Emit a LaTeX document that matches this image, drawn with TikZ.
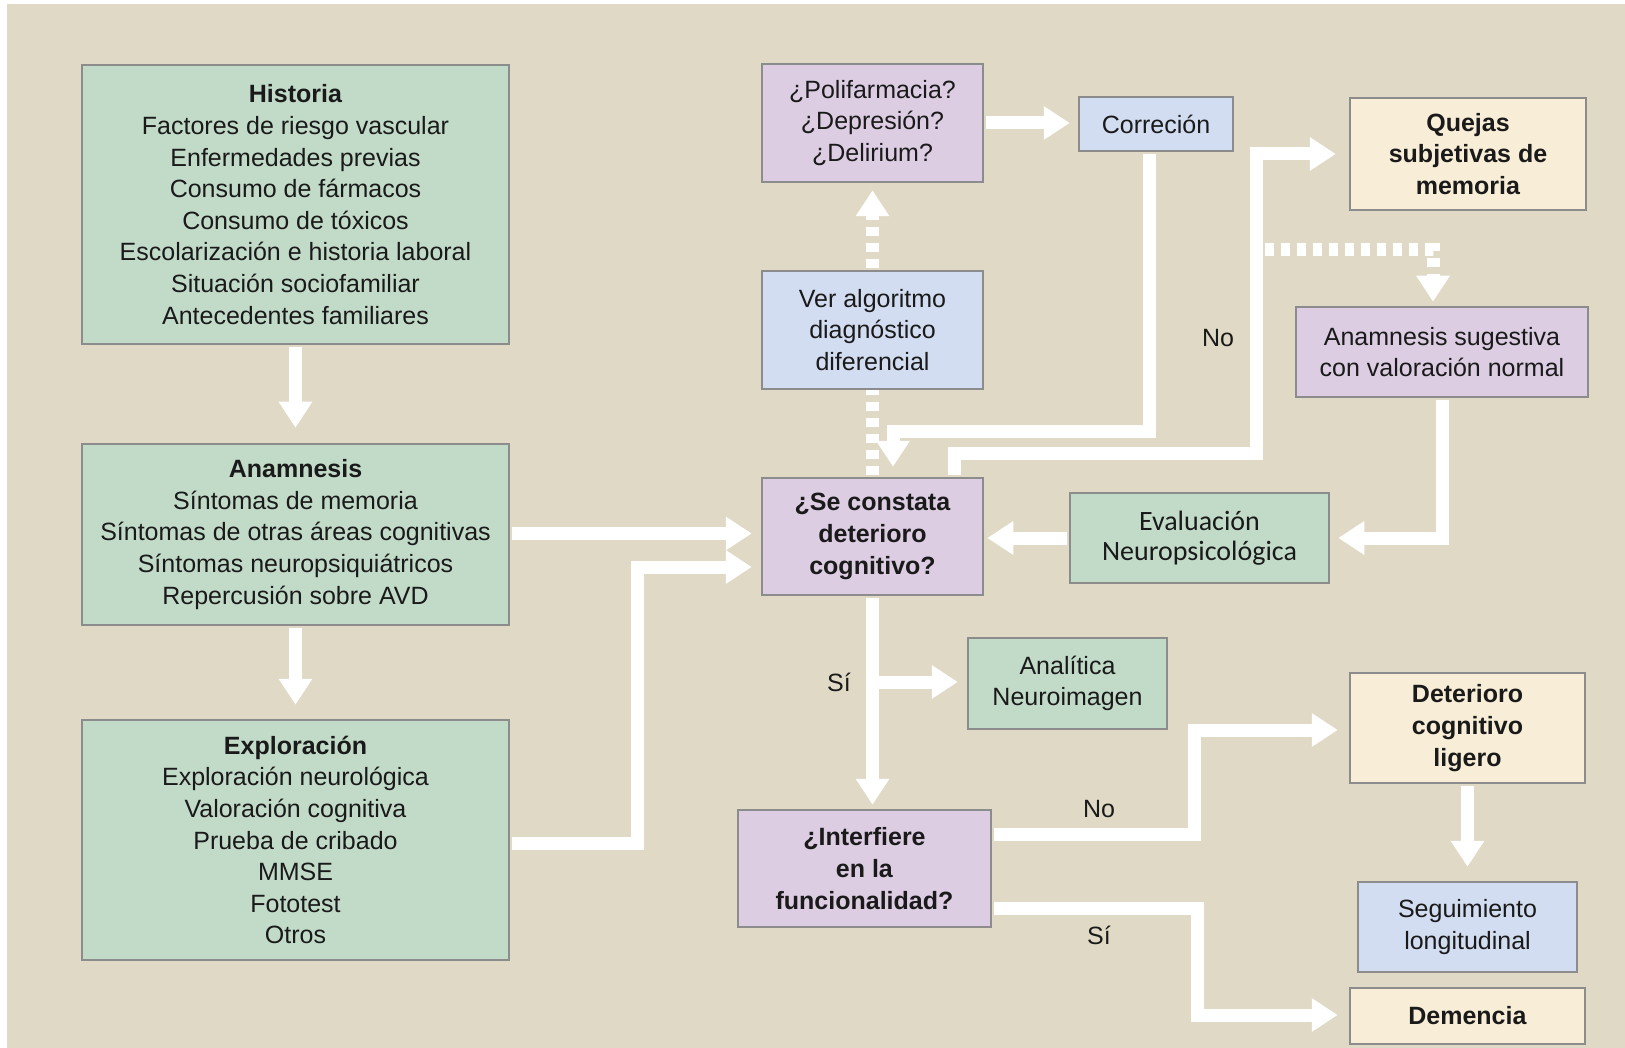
\documentclass[tikz,border=0pt]{standalone}
\usepackage{fontspec}
\setmainfont{Liberation Sans}
\newfontfamily\calfont{Carlito}
\usetikzlibrary{arrows.meta}
\definecolor{bgc}{HTML}{E0D9C6}
\definecolor{greenc}{HTML}{C2DBC8}
\definecolor{purpc}{HTML}{DDCDE3}
\definecolor{bluec}{HTML}{D3DDF1}
\definecolor{yelc}{HTML}{F8EED7}
\definecolor{bordc}{HTML}{8C8C8C}
\definecolor{txtc}{HTML}{1A1A1A}
\begin{document}
\begin{tikzpicture}[x=1pt,y=-1pt,
  box/.style={draw=bordc, line width=2.5pt, inner sep=0pt, align=center, text=txtc, font=\fontsize{25}{31.6}\selectfont},
  flow/.style={draw=white, line width=13pt, -{Triangle[width=32pt,length=26pt]}, shorten <=2pt},
  flowd/.style={flow, dash pattern=on 9pt off 7pt},
  plain/.style={draw=white, line width=13pt, shorten <=2pt},
  plaind/.style={plain, dash pattern=on 9pt off 7pt},
  lbl/.style={text=txtc, font=\fontsize{25}{30}\selectfont, inner sep=0pt}]
\useasboundingbox (0,0) rectangle (1625,1048);
\fill[white] (0,0) rectangle (1625,1048);
\fill[bgc] (7,4) rectangle (1625,1048);

% nodes
\node[box, fill=greenc, minimum width=427pt, minimum height=279pt] (hist) at (295.5,204.5)
 {\textbf{Historia}\\Factores de riesgo vascular\\Enfermedades previas\\Consumo de fármacos\\Consumo de tóxicos\\Escolarización e historia laboral\\Situación sociofamiliar\\Antecedentes familiares};
\node[box, fill=greenc, minimum width=427pt, minimum height=181pt] (anam) at (295.5,534.5)
 {\textbf{Anamnesis}\\Síntomas de memoria\\Síntomas de otras áreas cognitivas\\Síntomas neuropsiquiátricos\\Repercusión sobre AVD};
\node[box, fill=greenc, minimum width=427pt, minimum height=240pt] (expl) at (295.5,840)
 {\textbf{Exploración}\\Exploración neurológica\\Valoración cognitiva\\Prueba de cribado\\MMSE\\Fototest\\Otros};
\node[box, fill=purpc, minimum width=221pt, minimum height=118pt] (poli) at (872.5,123)
 {¿Polifarmacia?\\¿Depresión?\\¿Delirium?};
\node[box, fill=bluec, minimum width=154pt, minimum height=54pt] (corr) at (1156,124) {Correción};
\node[box, fill=bluec, minimum width=221pt, minimum height=118pt] (ver) at (872.5,330)
 {Ver algoritmo\\diagnóstico\\diferencial};
\node[box, fill=yelc, minimum width=236pt, minimum height=112pt] (quejas) at (1468,154)
 {\textbf{Quejas}\\\textbf{subjetivas de}\\\textbf{memoria}};
\node[box, fill=purpc, minimum width=292pt, minimum height=90pt] (sug) at (1442,352)
 {Anamnesis sugestiva\\con valoración normal};
\node[box, fill=purpc, minimum width=221pt, minimum height=117pt] (sc) at (872.5,536.5)
 {\textbf{¿Se constata}\\\textbf{deterioro}\\\textbf{cognitivo?}};
\node[box, fill=greenc, minimum width=259pt, minimum height=90pt, font=\calfont\fontsize{28}{30}\selectfont] (eval) at (1199.5,538)
 {Evaluación\\Neuropsicológica};
\node[box, fill=greenc, minimum width=199pt, minimum height=91pt] (anal) at (1067.5,683.5)
 {Analítica\\Neuroimagen};
\node[box, fill=yelc, minimum width=235pt, minimum height=110pt] (dcl) at (1467.5,728)
 {\textbf{Deterioro}\\\textbf{cognitivo}\\\textbf{ligero}};
\node[box, fill=purpc, minimum width=253pt, minimum height=117pt] (inter) at (864.5,868.5)
 {\textbf{¿Interfiere}\\\textbf{en la}\\\textbf{funcionalidad?}};
\node[box, fill=bluec, minimum width=219pt, minimum height=90pt] (seg) at (1467.5,927)
 {Seguimiento\\longitudinal};
\node[box, fill=yelc, minimum width=235pt, minimum height=56pt] (dem) at (1467.5,1016)
 {\textbf{Demencia}};

% labels
\node[lbl] (lno1) at (1218,338) {No};
\node[lbl] (lsi1) at (839,682) {Sí};
\node[lbl] (lno2) at (1099,809) {No};
\node[lbl] (lsi2) at (1099,935) {Sí};

% helper coordinates
\coordinate (c4) at (637,567);
\coordinate (c6) at (893,431);
\coordinate (c7) at (1256,453);
\coordinate (c8) at (1263,250);
\coordinate (c12) at (872.5,682);
\coordinate (c13) at (1194,730);
\coordinate (c14) at (1197,1015);

% connectors
\draw[flow, shorten >=15pt] (hist.south) -- (anam.north);
\draw[flow, shorten >=14pt] (anam.south) -- (expl.north);
\draw[flow, shorten >=9pt] ([yshift=1pt]anam.east) -- ([yshift=1pt]anam.east -| sc.west);
\draw[flow, shorten >=9pt] ([yshift=-3pt]expl.east) -| (c4) -- (c4 -| sc.west);
\draw[flow, shorten >=8pt] (poli.east) -- (poli.east -| corr.west);
\draw[flow, shorten >=10pt] ([xshift=-7pt]corr.south) |- (c6) -- (c6 |- sc.north);
\draw[flow, shorten >=13pt] ([xshift=-30pt]sc.north east) |- (c7) |- (quejas.west);
\draw[flowd, shorten >=4pt] (c8) -| ([xshift=-9pt]sug.north);
\draw[flow, shorten >=8pt] (sug.south) |- (eval.east);
\draw[flow, shorten >=3pt] (eval.west) -- (eval.west -| sc.east);
\draw[plaind] (sc.north) -- (ver.south);
\draw[flowd, shorten >=7pt] (ver.north) -- (poli.south);
\draw[flow, shorten >=4pt] (sc.south) -- (sc.south |- inter.north);
\draw[flow, shorten >=9pt] (c12) -- (c12 -| anal.west);
\draw[flow, shorten >=11pt] ([yshift=34.5pt]inter.east) -| (c13) -- (c13 -| dcl.west);
\draw[flow, shorten >=11pt] ([yshift=-39.5pt]inter.east) -| (c14) -- (c14 -| dem.west);
\draw[flow, shorten >=14pt] (dcl.south) -- (seg.north);
\end{tikzpicture}
\end{document}
